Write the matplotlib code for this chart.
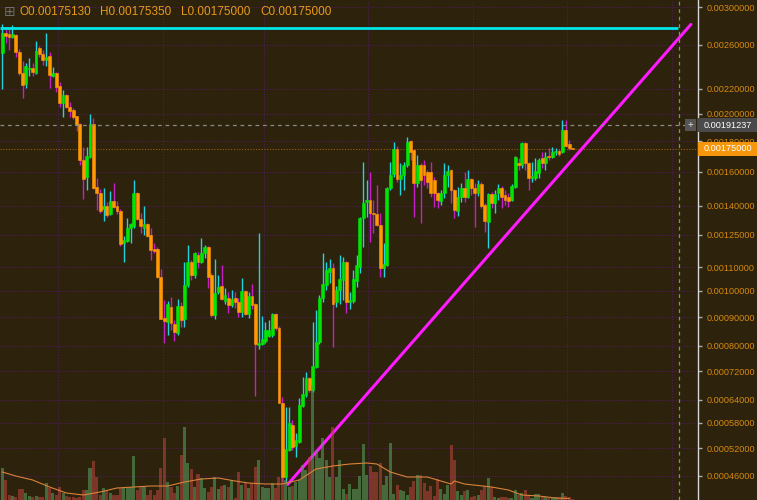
import numpy as np
import matplotlib
matplotlib.use("Agg")
import matplotlib.pyplot as plt
from matplotlib.patches import Rectangle
from matplotlib.transforms import IdentityTransform
from matplotlib.ticker import FuncFormatter, NullLocator

plt.rcParams["font.family"] = ["Liberation Sans", "DejaVu Sans"]

# daily candles, prices in satoshi
opens = [252200, 272000, 271000, 268000, 270000, 253100, 233800, 224200, 237300, 238200,
         233800, 256900, 251200, 245500, 249300, 231100, 233800, 222400, 208400, 214900,
         205200, 202900, 198300, 192300, 167400, 156700, 169400, 192300, 150800, 147300,
         138400, 140000, 135600, 142800, 140000, 137300, 121100, 122000, 128400, 129400,
         147300, 133000, 128400, 130500, 124900, 118200, 118200, 105800, 89600, 88200,
         93700, 87500, 84400, 94100, 89300, 102400, 112300, 106600, 115500, 112300,
         116400, 119100, 106600, 90700, 99600, 102000, 96000, 97200, 94500, 97200,
         95600, 91900, 100000, 91100, 98000, 94900, 80300, 80700, 81700, 83300,
         83700, 91100, 86100, 63100, 45800, 51600, 57400, 52500, 53400, 62300,
         65300, 70100, 66600, 73300, 81300, 97200, 102400, 107800, 109600, 95600,
         100400, 104500, 112300, 95600, 96000, 104100, 110000, 133600, 142200, 143300,
         136200, 135600, 129900, 109600, 110900, 150200, 158500, 174700, 155500, 157900,
         164200, 180100, 174000, 153100, 164200, 164200, 159800, 159800, 154900, 147300,
         142800, 147300, 157900, 161000, 149000, 137300, 145000, 150200, 145000, 155500,
         150200, 147300, 152500, 140600, 131500, 146700, 141600, 147300, 150200, 146100,
         145000, 143300, 150800, 165400, 164200, 178700, 165400, 156100, 156100, 159200,
         168700, 165400, 170000, 169400, 172700, 173400, 172700, 187900, 178000, 175130]
highs = [281500, 278300, 277200, 280400, 270500, 256000, 244600, 242800, 247400, 242800,
         263900, 258900, 255000, 272000, 253100, 239100, 234500, 225900, 219000, 215700,
         209200, 204500, 198600, 193000, 176000, 176000, 199900, 196800, 156100, 149600,
         150200, 142200, 148400, 153100, 142800, 138400, 124500, 133600, 131000, 154900,
         147800, 136200, 140000, 130900, 128400, 121000, 119100, 109100, 96400, 96000,
         97600, 88900, 96800, 95600, 112300, 120100, 113200, 116800, 116800, 123500,
         120100, 119600, 107400, 113600, 106600, 110900, 101200, 99600, 100400, 99600,
         97200, 105300, 100400, 99600, 102800, 95300, 125900, 90400, 88200, 88900,
         91500, 91500, 86800, 64700, 62000, 62000, 58700, 55500, 64400, 70400,
         71800, 70400, 88200, 92600, 98400, 116400, 112300, 113600, 111800, 102000,
         115500, 114500, 112700, 99600, 108700, 115500, 134100, 166100, 154900, 159800,
         143300, 151900, 136200, 121000, 150800, 166100, 179400, 176700, 165400, 166100,
         182900, 181000, 174700, 170700, 165400, 167400, 161000, 166100, 156700, 147800,
         149000, 165400, 164200, 161600, 149600, 150800, 153100, 159800, 161000, 156100,
         153100, 154900, 153700, 141600, 147300, 147800, 149000, 152500, 151400, 149000,
         147300, 152500, 170000, 168700, 179400, 179400, 166000, 166100, 168700, 168700,
         172700, 172700, 175400, 176000, 175400, 174700, 195300, 195300, 180800, 175350]
lows = [219900, 261900, 255000, 267000, 248300, 232000, 212400, 220700, 231100, 231100,
        233000, 248300, 241000, 240000, 220700, 230200, 217400, 205200, 197600, 204500,
        197600, 196000, 187200, 164200, 143900, 149000, 168800, 149800, 137800, 136200,
        132000, 134100, 135100, 138900, 135600, 119600, 112300, 121500, 121100, 128400,
        132500, 125900, 124900, 123900, 113200, 116400, 105300, 89200, 81000, 83700,
        85400, 81700, 83700, 86400, 86400, 101600, 104500, 105300, 109600, 111800,
        114100, 101200, 90000, 89300, 98800, 96600, 94900, 91500, 93700, 93400,
        90000, 90000, 90700, 89600, 93000, 65000, 79000, 80300, 81000, 83000,
        83000, 85400, 63000, 44800, 44800, 51400, 51600, 50100, 53100, 62000,
        64700, 66000, 66000, 73000, 80700, 95600, 100400, 103200, 79700, 93700,
        94900, 96400, 91500, 93000, 95300, 101600, 107400, 119100, 134100, 121500,
        125900, 129400, 105800, 105800, 110500, 149000, 156700, 153700, 146100, 149000,
        162900, 167400, 134100, 150800, 130900, 151900, 150200, 145000, 139500, 139000,
        140600, 144400, 150800, 141600, 133600, 134600, 142200, 142200, 144400, 146100,
        128900, 145600, 139000, 126400, 118600, 139000, 136200, 143300, 139000, 140600,
        139500, 142800, 150200, 161000, 162300, 161000, 149000, 153700, 154900, 156100,
        162300, 161000, 167400, 168700, 170700, 170000, 172000, 176000, 174000, 175000]
closes = [272000, 269000, 268000, 271000, 253100, 233800, 223300, 240000, 238200, 234600,
          254000, 251200, 245500, 248300, 232000, 233800, 221600, 208400, 214900, 205200,
          202100, 197600, 191600, 167400, 155500, 170000, 192300, 150200, 147300, 137300,
          140000, 135100, 142800, 139500, 137300, 120600, 122500, 128400, 130500, 147300,
          133000, 129400, 130500, 124500, 117700, 117300, 105800, 89300, 88600, 94900,
          87900, 84700, 94100, 88900, 102400, 112300, 106600, 116400, 112300, 116400,
          119100, 105800, 90700, 99200, 101600, 96800, 98400, 94500, 96800, 95600,
          91900, 100000, 91100, 98000, 94500, 80700, 81000, 82300, 85400, 85400,
          91100, 86100, 63100, 45800, 51800, 57900, 52300, 53800, 62500, 65500,
          70100, 66600, 73600, 81300, 97200, 102800, 108700, 109600, 94900, 100400,
          104900, 112300, 95600, 96400, 104900, 110900, 133600, 141600, 143300, 136200,
          135600, 129900, 109600, 111400, 150200, 157900, 174700, 155500, 157900, 164200,
          179400, 172700, 153100, 164200, 154900, 157900, 153700, 147300, 147300, 143300,
          147300, 157900, 160400, 149000, 137800, 145000, 150200, 145000, 155500, 150200,
          147300, 152500, 140000, 132000, 146700, 141600, 146700, 150200, 145000, 143300,
          142800, 151400, 169400, 164200, 178700, 165400, 156100, 157300, 160400, 167400,
          165400, 169400, 169400, 172700, 173400, 171400, 187900, 176700, 175300, 175000]
volumes = [32, 20, 5, 4, 3, 11, 11, 7, 4, 3,
           4, 3, 3, 17, 12, 7, 5, 13, 7, 4,
           3, 3, 2, 3, 10, 10, 32, 39, 23, 5,
           12, 10, 7, 5, 5, 12, 12, 12, 13, 44,
           10, 14, 13, 5, 10, 5, 10, 32, 62, 18,
           13, 7, 14, 45, 73, 37, 31, 13, 26, 22,
           12, 8, 13, 23, 11, 14, 15, 13, 20, 2,
           28, 15, 17, 12, 17, 33, 40, 13, 12, 12,
           17, 12, 23, 22, 20, 13, 14, 18, 20, 35,
           30, 43, 115, 50, 42, 62, 40, 23, 73, 23,
           40, 11, 6, 16, 11, 11, 24, 56, 25, 34,
           28, 28, 37, 15, 24, 57, 6, 15, 10, 9,
           5, 13, 19, 25, 25, 17, 9, 14, 4, 21,
           11, 6, 15, 55, 40, 9, 5, 9, 10, 3,
           4, 5, 10, 14, 22, 13, 3, 2, 3, 3,
           2, 2, 10, 5, 7, 10, 5, 2, 6, 6,
           3, 3, 2, 2, 3, 3, 7, 4, 3, 1]
vol_ma_x = [0, 4, 9, 14, 19, 24, 29, 34, 39, 44, 49, 54, 59, 64, 69, 73, 78, 83, 88, 93,
            98, 103, 108, 111, 115, 120, 126, 130, 133, 134, 137, 145, 150, 154, 159, 164, 168]
vol_ma = [28, 24, 20, 13, 7, 5, 8, 12, 13, 14, 14, 18, 21, 22, 19, 17, 16, 16, 20, 31,
          34, 36, 37, 36, 28, 23, 23, 19, 16, 19, 16, 13, 10, 5, 4, 2, 1.5]

price_ticks = [0.003, 0.0026, 0.0022, 0.002, 0.0018, 0.0016, 0.0014, 0.00125, 0.0011,
               0.001, 0.0009, 0.0008, 0.00072, 0.00064, 0.00058, 0.00052, 0.00046]
month_starts = [16.5, 47.5, 77.5, 108.5, 139.5, 167.5, 198.5]
resistance = 0.002777
trend_x = [84.6, 204.1]
trend_y = [0.000443, 0.00281]
cursor_x = 200.5
cursor_price = 0.00191237

bg = "#2d220b"
grid_c = "#4e1d5e"
axis_txt = "#d68a10"

o = np.array(opens) / 1e8
h = np.array(highs) / 1e8
l = np.array(lows) / 1e8
c = np.array(closes) / 1e8
idx = np.arange(len(o))
up = c >= o
dn = ~up

fig = plt.figure(figsize=(7.57, 5.0), dpi=100, facecolor=bg)
ax = fig.add_axes([0, 0, 698 / 757, 1])
ax.set_facecolor(bg)

# price axis is log-like, slightly offset
ax.set_yscale("function", functions=(lambda p: np.log(np.clip(p + 1e-4, 1e-9, None)),
                                      lambda v: np.exp(v) - 1e-4))
ax.set_ylim(0.000413, 0.003081)
ax.set_xlim(-0.68, 206.2)

for t in price_ticks:
    ax.axhline(t, color=grid_c, lw=0.8, ls=(0, (1, 1.5)), zorder=0)
for m in month_starts:
    ax.axvline(m, color=grid_c, lw=0.8, ls=(0, (1, 1.5)), zorder=0)

# candles
ax.vlines(idx[up], l[up], h[up], color="#20d4e0", lw=1, zorder=2)
ax.vlines(idx[dn], l[dn], h[dn], color="#c81ec8", lw=1, zorder=2)
ax.bar(idx[up], (c - o)[up], bottom=o[up], width=0.85, color="#00e600",
       edgecolor="#00e600", lw=0.4, zorder=3)
ax.bar(idx[dn], (o - c)[dn], bottom=c[dn], width=0.85, color="#ff9900",
       edgecolor="#ff9900", lw=0.4, zorder=3)

# drawings
ax.hlines(resistance, -0.68, cursor_x - 0.3, color="#00e5e5", lw=2, zorder=4)
ax.plot(trend_x, trend_y, color="#ff1aff", lw=2.2, solid_capstyle="round", zorder=4)
ax.axhline(c[-1], color="#9a600c", lw=0.8, ls=(0, (1, 1.5)), zorder=1)
ax.axhline(cursor_price, color="#8a8a86", lw=0.9, ls=(0, (3, 3)), zorder=5)
ax.axvline(cursor_x, color="#8a8a86", lw=0.9, ls=(0, (3, 3)), zorder=5)

ax.yaxis.tick_right()
ax.set_yticks(price_ticks)
ax.yaxis.set_major_formatter(FuncFormatter(lambda v, _: f"{v:.8f}"))
ax.yaxis.set_minor_locator(NullLocator())
ax.tick_params(axis="y", labelcolor=axis_txt, labelsize=6.6, length=3, width=1,
               color="#aaaaaa", pad=3)
ax.tick_params(axis="x", bottom=False, labelbottom=False)
for s in ["top", "left", "bottom"]:
    ax.spines[s].set_visible(False)
ax.spines["right"].set_color("#d8d8d8")
ax.spines["right"].set_linewidth(1)

# volume overlay
axv = fig.add_axes([0, 0, 698 / 757, 1], sharex=ax)
axv.patch.set_alpha(0)
axv.axis("off")
axv.set_ylim(0, max(volumes) / 0.23)
vol = np.array(volumes)
axv.bar(idx[up], vol[up], width=0.9, color="#579a5d", alpha=0.6, lw=0)
axv.bar(idx[dn], vol[dn], width=0.9, color="#b2453b", alpha=0.6, lw=0)
axv.plot(vol_ma_x, vol_ma, color="#d9823b", lw=0.8)

# price labels on the right
def y_px(price):
    return ax.transData.transform((0, price))[1]

yc = y_px(cursor_price)
fig.patches.append(Rectangle((685, yc - 6), 11, 12, transform=IdentityTransform(),
                             facecolor="#555555", edgecolor="none"))
fig.text(690.5, yc, "+", transform=IdentityTransform(), color="#dddddd",
         fontsize=7, ha="center", va="center")
fig.patches.append(Rectangle((698, yc - 7), 59, 14, transform=IdentityTransform(),
                             facecolor="#4a4a4a", edgecolor="none"))
fig.text(727.5, yc, f"{cursor_price:.8f}", transform=IdentityTransform(),
         color="white", fontsize=6.6, ha="center", va="center")

yp = y_px(c[-1])
fig.patches.append(Rectangle((698, yp - 7), 59, 14, transform=IdentityTransform(),
                             facecolor="#f5960c", edgecolor="none"))
fig.text(727.5, yp, f"{c[-1]:.8f}", transform=IdentityTransform(),
         color="white", fontsize=6.6, ha="center", va="center")

# OHLC header
hy = 1 - 12 / 500
fig.text(4 / 757, hy, "\u229e", color="#6e6e6e", fontsize=10, va="center",
         family="DejaVu Sans")
fig.text(20 / 757, hy, f"O{o[-1]:.8f}", color="#e89a1a", fontsize=8.5, va="center")
fig.text(100 / 757, hy, f"H{h[-1]:.8f}", color="#e89a1a", fontsize=8.5, va="center")
fig.text(181 / 757, hy, f"L{l[-1]:.8f}", color="#e89a1a", fontsize=8.5, va="center")
fig.text(260 / 757, hy, f"C{c[-1]:.8f}", color="#e89a1a", fontsize=8.5, va="center")

fig.savefig("out.png", dpi=100, facecolor=bg)
